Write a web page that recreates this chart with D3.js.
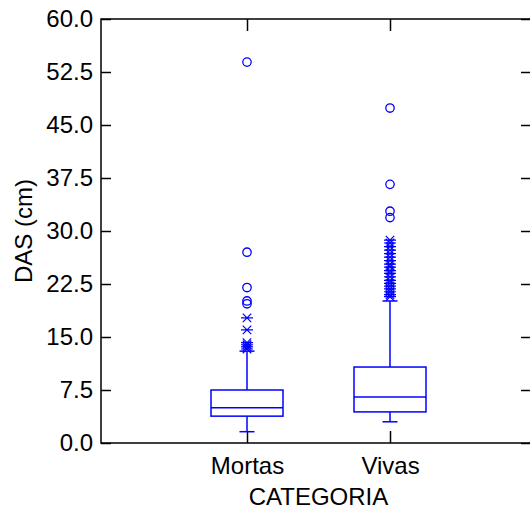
<!DOCTYPE html>
<html>
<head>
<meta charset="utf-8">
<script src="https://cdn.jsdelivr.net/npm/d3@7"></script>
<style>
  body { margin: 0; background: #fff; }
  svg { display: block; }
  text { font-family: "Liberation Sans", Arial, sans-serif; }
</style>
</head>
<body>
<svg id="chart" width="530" height="515"></svg>
<script>
const categories = ["Mortas", "Vivas"];
const whiskerLow = [1.6, 3.0];
const q1 = [3.8, 4.4];
const median = [5.0, 6.5];
const q3 = [7.5, 10.75];
const whiskerHigh = [13.0, 20.1];
// outliers beyond 1.5 IQR (stars) and beyond 3 IQR (circles)
const nearOutliers = [
  [13.3, 13.6, 13.9, 14.2, 16.0, 17.7],
  [20.7, 21.0, 21.4, 21.8, 22.2, 22.6, 23.0, 23.5, 24.0, 24.4, 24.9, 25.3, 25.8, 26.3, 26.8, 27.3, 27.8, 28.3, 28.7]
];
const farOutliers = [
  [19.7, 20.1, 22.0, 27.0, 53.9],
  [31.9, 32.8, 36.6, 47.4]
];
const yTicks = [0, 7.5, 15, 22.5, 30, 37.5, 45, 52.5, 60];

const blue = "#0000ff";
const plotL = 101, plotR = 531, plotT = 19, plotB = 443;

const svg = d3.select("#chart");

const y = d3.scaleLinear().domain([0, 60]).range([plotB, plotT]);
const x = d3.scalePoint().domain(categories).range([247, 390]);

// frame
svg.append("rect")
  .attr("x", plotL).attr("y", plotT)
  .attr("width", plotR - plotL).attr("height", plotB - plotT)
  .attr("fill", "none").attr("stroke", "#000").attr("stroke-width", 1.5);

svg.append("g").attr("transform", `translate(${plotL},0)`)
  .call(d3.axisLeft(y).tickValues(yTicks).tickFormat(d3.format(".1f")).tickSizeInner(-10).tickSizeOuter(0).tickPadding(8));
svg.append("g").attr("transform", `translate(${plotR},0)`)
  .call(d3.axisRight(y).tickValues(yTicks).tickFormat("").tickSizeInner(-10).tickSizeOuter(0));
svg.append("g").attr("transform", `translate(0,${plotB})`)
  .call(d3.axisBottom(x).tickSizeInner(-12).tickSizeOuter(0).tickPadding(14));
svg.append("g").attr("transform", `translate(0,${plotT})`)
  .call(d3.axisTop(x).tickFormat("").tickSizeInner(-12).tickSizeOuter(0));

svg.selectAll(".domain").remove();
svg.selectAll(".tick line").attr("stroke", "#000").attr("stroke-width", 1.5);
svg.selectAll(".tick text").attr("font-size", 24).attr("fill", "#000")
  .attr("font-family", "'Liberation Sans', Arial, sans-serif");

svg.append("text")
  .attr("x", (x("Mortas") + x("Vivas")) / 2).attr("y", 505)
  .attr("text-anchor", "middle").attr("font-size", 24).text("CATEGORIA");
svg.append("text")
  .attr("transform", `translate(32,${(plotT + plotB) / 2}) rotate(-90)`)
  .attr("text-anchor", "middle").attr("font-size", 24).text("DAS (cm)");

const boxW = 72, capW = 15;
const data = categories.map((c, i) => ({ c, i }));

const g = svg.append("g").attr("stroke", blue).attr("fill", "none").attr("stroke-width", 1.5);

g.selectAll(".whisker").data(data).join("line")
  .attr("x1", d => x(d.c)).attr("x2", d => x(d.c))
  .attr("y1", d => y(q3[d.i])).attr("y2", d => y(whiskerHigh[d.i]));
g.selectAll(".whiskerLow").data(data).join("line")
  .attr("x1", d => x(d.c)).attr("x2", d => x(d.c))
  .attr("y1", d => y(q1[d.i])).attr("y2", d => y(whiskerLow[d.i]));
g.selectAll(".capHi").data(data).join("line")
  .attr("x1", d => x(d.c) - capW / 2).attr("x2", d => x(d.c) + capW / 2)
  .attr("y1", d => y(whiskerHigh[d.i])).attr("y2", d => y(whiskerHigh[d.i]));
g.selectAll(".capLo").data(data).join("line")
  .attr("x1", d => x(d.c) - capW / 2).attr("x2", d => x(d.c) + capW / 2)
  .attr("y1", d => y(whiskerLow[d.i])).attr("y2", d => y(whiskerLow[d.i]));
g.selectAll(".box").data(data).join("rect")
  .attr("x", d => x(d.c) - boxW / 2).attr("width", boxW)
  .attr("y", d => y(q3[d.i])).attr("height", d => y(q1[d.i]) - y(q3[d.i]))
  .attr("fill", "#fff");
g.selectAll(".median").data(data).join("line")
  .attr("x1", d => x(d.c) - boxW / 2).attr("x2", d => x(d.c) + boxW / 2)
  .attr("y1", d => y(median[d.i])).attr("y2", d => y(median[d.i]));

const star = (r) => {
  const p = d3.path();
  const a = r * Math.cos(Math.PI / 4);
  p.moveTo(-r, 0); p.lineTo(r, 0);
  p.moveTo(-a, -a); p.lineTo(a, a);
  p.moveTo(-a, a); p.lineTo(a, -a);
  return p.toString();
};

const stars = data.flatMap(d => nearOutliers[d.i].map(v => ({ c: d.c, v })));
g.selectAll(".star").data(stars).join("path")
  .attr("transform", d => `translate(${x(d.c)},${y(d.v)})`)
  .attr("d", star(6)).attr("stroke-width", 1.2);

const circles = data.flatMap(d => farOutliers[d.i].map(v => ({ c: d.c, v })));
g.selectAll(".far").data(circles).join("circle")
  .attr("cx", d => x(d.c)).attr("cy", d => y(d.v)).attr("r", 4.2)
  .attr("stroke-width", 1.3);
</script>
</body>
</html>
